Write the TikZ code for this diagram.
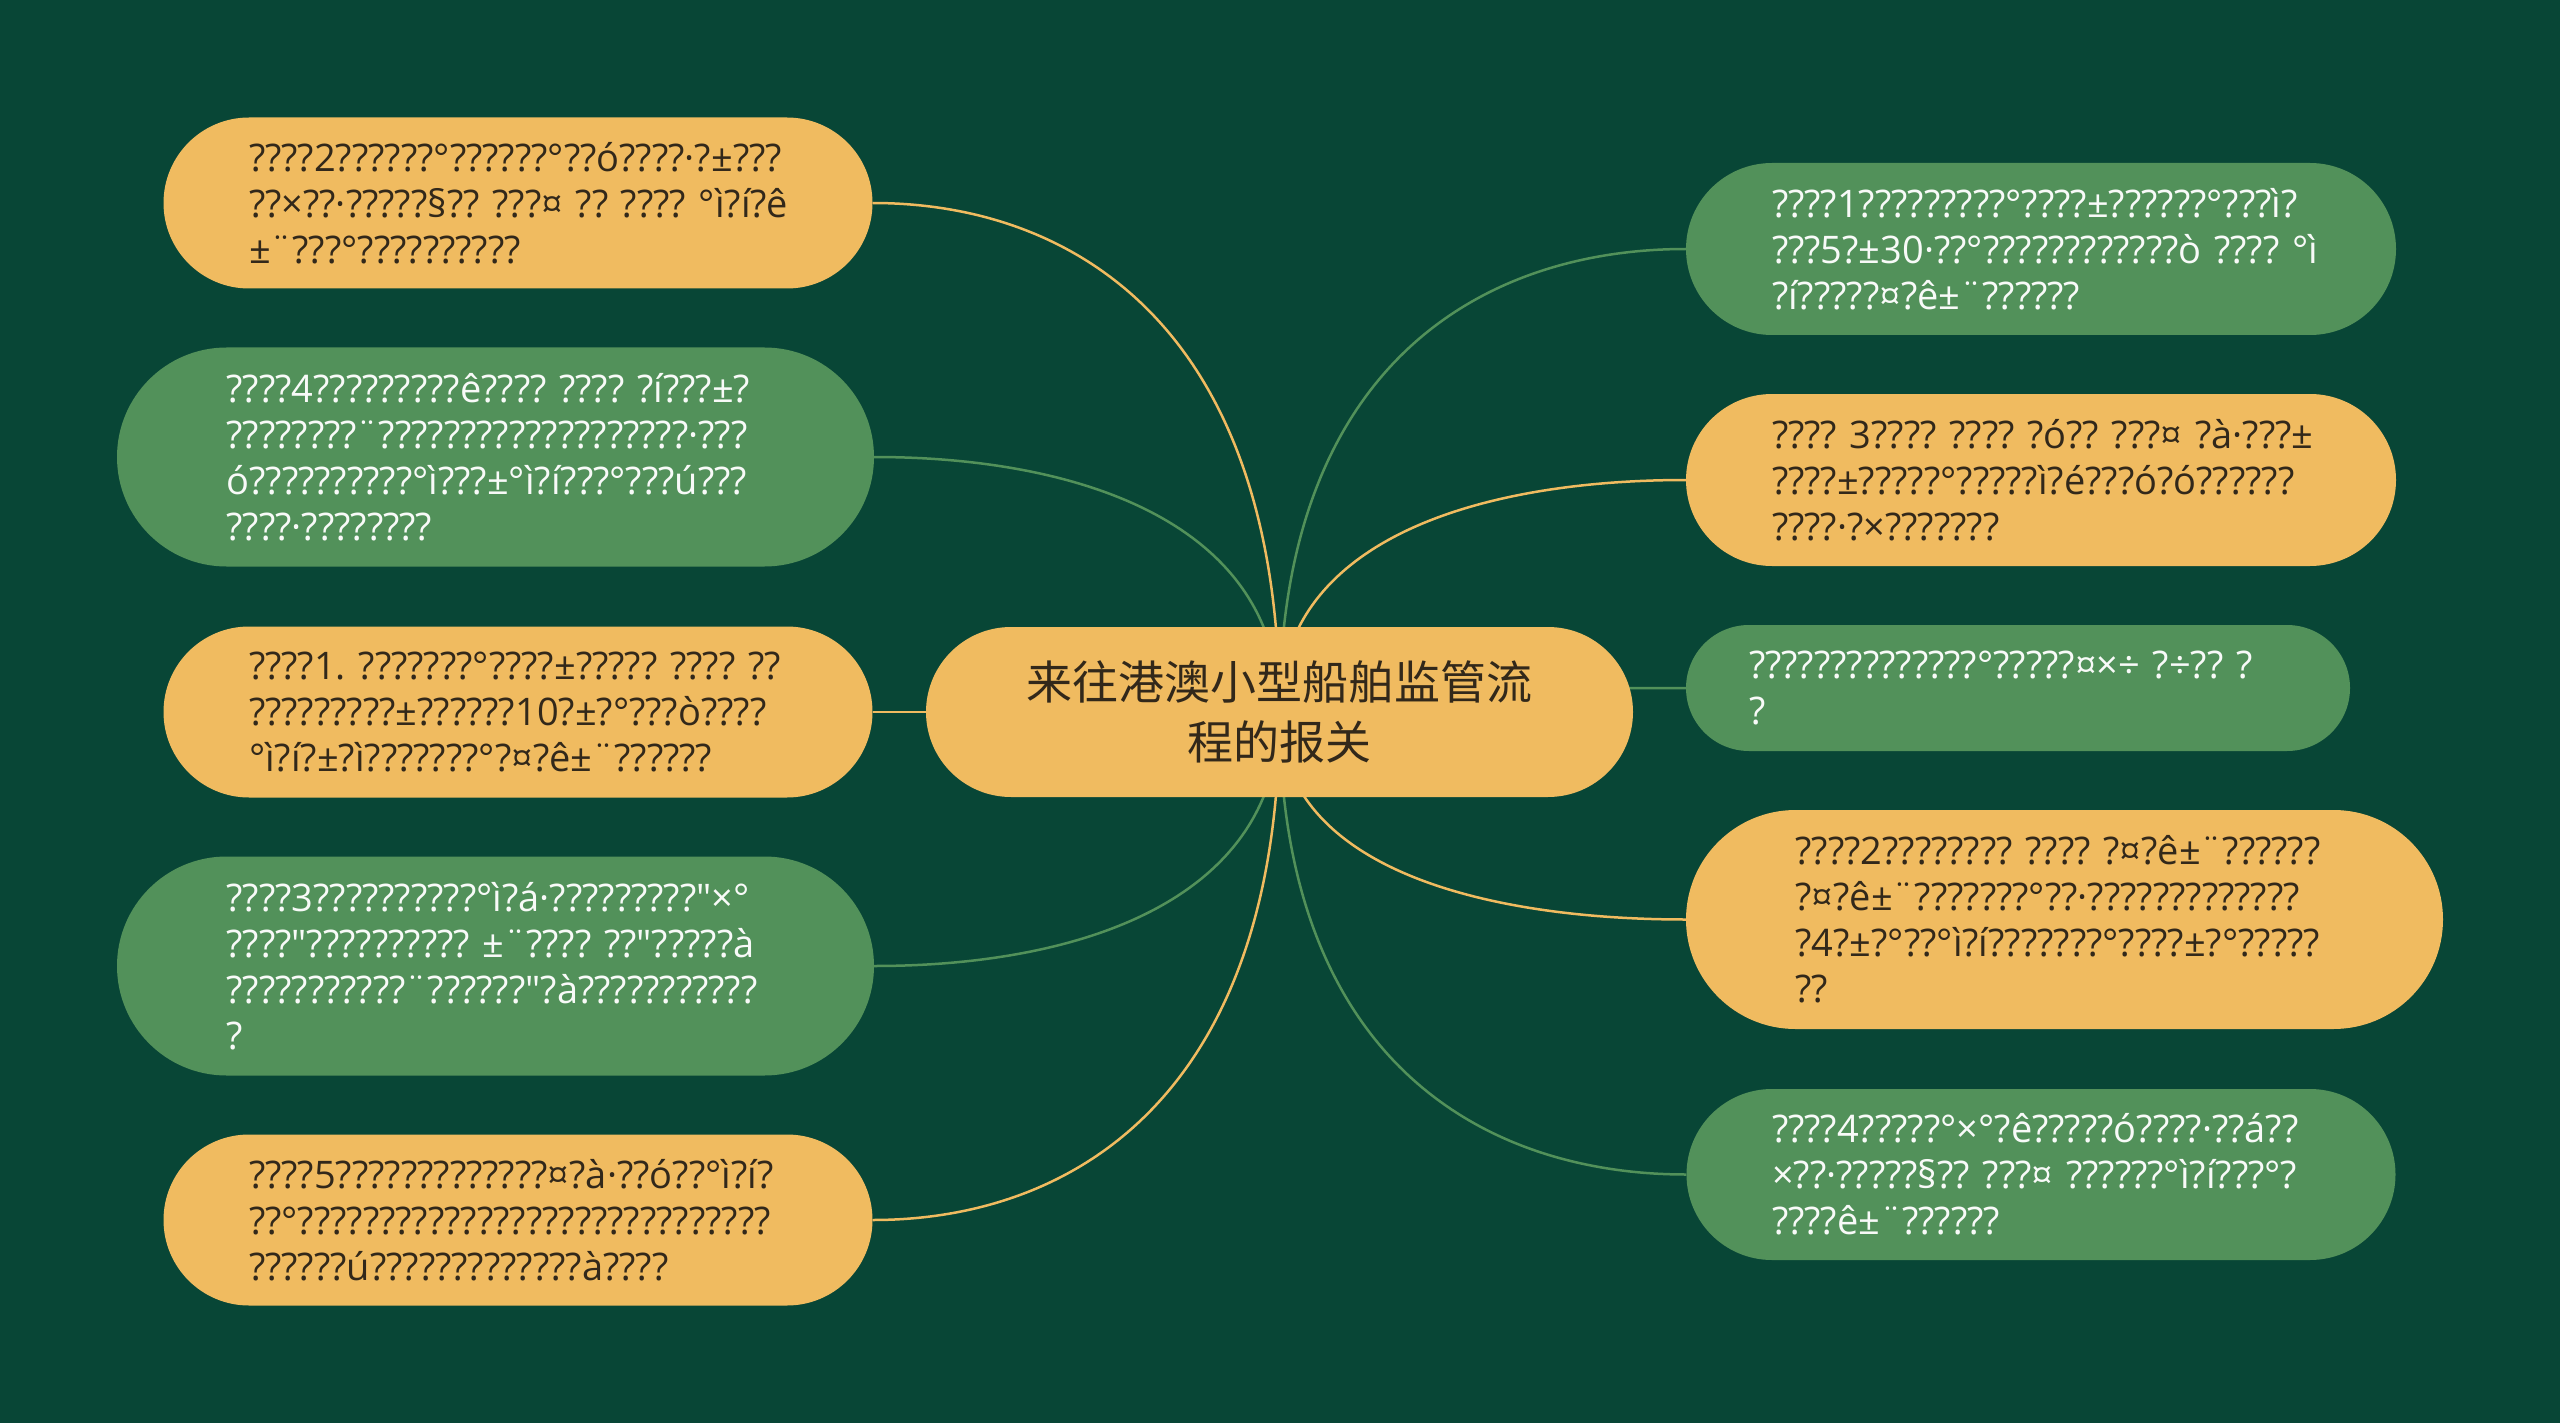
\documentclass[tikz,border=0pt]{standalone}
\usepackage{fontspec}
\newfontfamily\leaffont{Open Sans}
\newfontfamily\cjkfont{Noto Sans CJK SC}
\definecolor{bgc}{RGB}{8,70,54}
\definecolor{leafg}{RGB}{82,145,90}
\definecolor{leafy}{RGB}{240,187,96}
\definecolor{inkd}{RGB}{50,40,26}
\definecolor{inkw}{RGB}{248,250,248}
\pgfdeclarelayer{back}
\pgfsetlayers{back,main}
\begin{document}
\frenchspacing
\begin{tikzpicture}[x=1pt,y=-1pt,
  leaf/.style={rectangle, rounded corners=#1/2, minimum height=#1, text width=538pt,
    inner xsep=#1/2, inner ysep=0pt, align=left,
    font=\leaffont\fontsize{38}{46}\selectfont\frenchspacing},
  yleaf/.style={leaf=#1, fill=leafy, text=inkd},
  gleaf/.style={leaf=#1, fill=leafg, text=inkw},
  ylink/.style={draw=leafy, line width=2.5pt},
  glink/.style={draw=leafg, line width=2.5pt}]
\useasboundingbox (0,0) rectangle (2560,1423);

\node[rectangle, rounded corners=85pt, fill=leafy, minimum width=707pt, minimum height=170pt,
  text width=620pt, align=center, text=inkd, font=\cjkfont\fontsize{46}{60}\selectfont]
  (c) at (1279.5,712) {来往港澳小型船舶监管流\\程的报关};

\node[yleaf=171] (l1) at (518,203) {????2??????°??????°??ó????·?±???\\??×??·?????§??~???¤~??~????~°ì?í?ê\\±¨???°??????????};
\node[gleaf=219] (l2) at (495.5,457) {????4?????????ê????~????~?í???±?\\????????¨???????????????????·???\\ó??????????°ì???±°ì?í???°???ú???\\????·????????};
\node[yleaf=171] (l3) at (518,712) {????1.~???????°????±?????~????~??\\?????????±??????10?±?°???ò????\\°ì?í?±?ì???????°?¤?ê±¨??????};
\node[gleaf=219] (l4) at (495.5,966) {????3??????????°ì?á·?????????"×°\\????"??????????~±¨????~??"?????à\\???????????¨??????"?à???????????\\?};
\node[yleaf=171] (l5) at (518,1220) {????5?????????????¤?à·??ó??°ì?í?\\??°?????????????????????????????\\??????ú?????????????à????};

\node[gleaf=172] (r1) at (2041,249) {????1?????????°????±??????°???ì?\\???5?±30·??°????????????ò~????~°ì\\?í?????¤?ê±¨??????};
\node[yleaf=172] (r2) at (2041,480) {????~3????~????~?ó??~???¤~?à·???±\\????±?????°?????ì?é???ó?ó??????\\????·?×???????};
\node[gleaf=126] (r3) at (2018,688) {??????????????°?????¤×÷~?÷??~?\\?};
\node[yleaf=219] (r4) at (2064.5,919.5) {????2????????~????~?¤?ê±¨??????\\?¤?ê±¨???????°??·?????????????\\?4?±?°??°ì?í???????°????±?°?????\\??};
\node[gleaf=171] (r5) at (2041,1174.5) {????4?????°×°?ê?????ó????·??á??\\×??·?????§??~???¤~??????°ì?í???°?\\????ê±¨??????};

\begin{pgfonlayer}{back}
\fill[bgc] (0,0) rectangle (2560,1423);
\draw[ylink] (c.center) .. controls (1279.5,330) and (1076,203) .. (l1.east);
\draw[glink] (c.center) .. controls (1279.5,521) and (1076,457) .. (l2.east);
\draw[ylink] (c.center) -- (l3.east);
\draw[glink] (c.center) .. controls (1279.5,902.5) and (1076,966) .. (l4.east);
\draw[ylink] (c.center) .. controls (1279.5,1093) and (1076,1220) .. (l5.east);
\draw[glink] (c.center) .. controls (1279.5,365) and (1482,249) .. (r1.west);
\draw[ylink] (c.center) .. controls (1279.5,538) and (1482,480) .. (r2.west);
\draw[glink] (c.center) .. controls (1279.5,694) and (1482,688) .. (r3.west);
\draw[ylink] (c.center) .. controls (1279.5,867.5) and (1482,919.5) .. (r4.west);
\draw[glink] (c.center) .. controls (1279.5,1059) and (1482,1174.5) .. (r5.west);
\end{pgfonlayer}
\end{tikzpicture}
\end{document}
